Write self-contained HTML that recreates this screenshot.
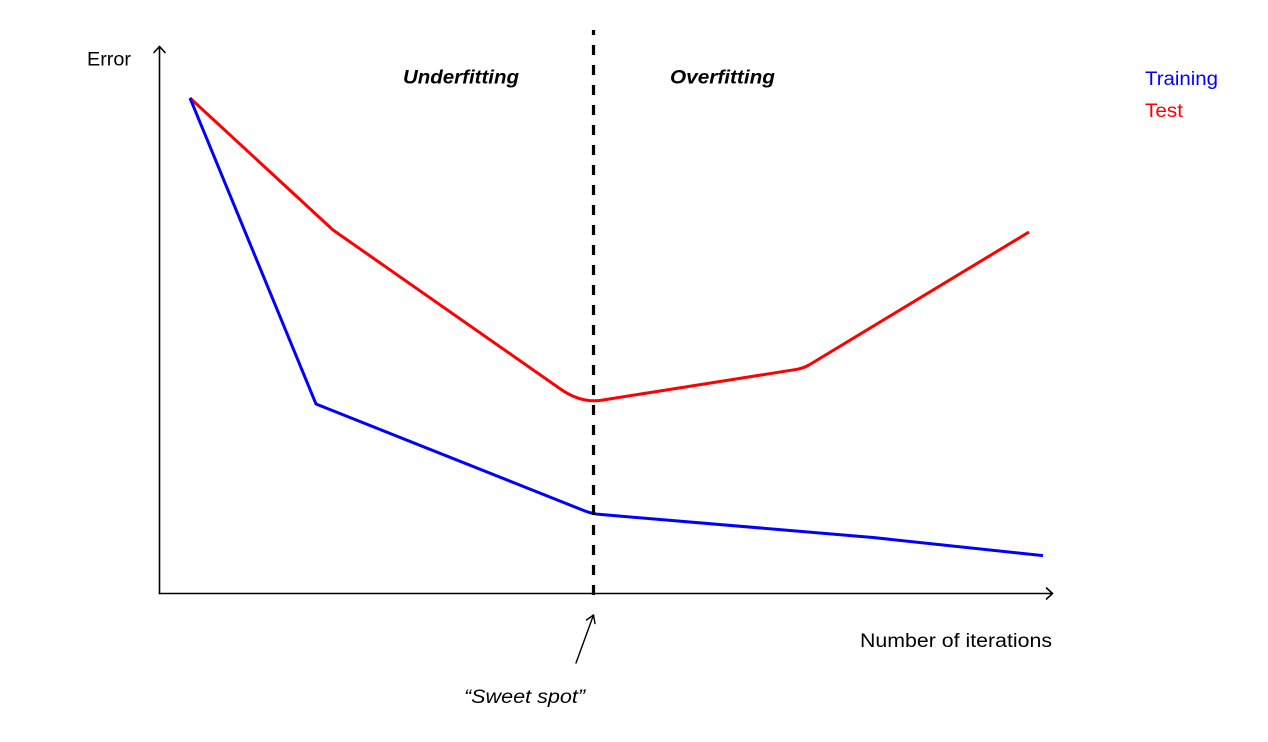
<!DOCTYPE html>
<html>
<head>
<meta charset="utf-8">
<style>
  html, body { margin: 0; padding: 0; background: #ffffff; }
  svg { display: block; }
  text { font-family: "Liberation Sans", "DejaVu Sans", sans-serif; }
</style>
</head>
<body>
<svg width="1268" height="742" viewBox="0 0 1268 742" xmlns="http://www.w3.org/2000/svg">
  <rect x="0" y="0" width="1268" height="742" fill="#ffffff"/>

  <!-- Axes -->
  <g stroke="#000" stroke-width="1.6" fill="none" stroke-linecap="round" stroke-linejoin="round">
    <line x1="159.5" y1="593.5" x2="159.5" y2="46.5"/>
    <polyline points="154,52.5 159.5,46.5 165,52.5"/>
    <line x1="159.5" y1="593.5" x2="1052.5" y2="593.5"/>
    <polyline points="1046.5,588 1052.5,593.5 1046.5,599"/>
  </g>

  <!-- Series: Test (red) -->
  <path d="M190,98 L333,230 L559,388 Q581,404 603,400 L797,369.3 Q803,368.3 809,365 L1029,232"
        fill="none" stroke="#ff0000" stroke-width="3" stroke-linejoin="round" stroke-linecap="butt"/>

  <!-- Series: Training (blue) -->
  <path d="M190,98 L316,404 L585,511 Q593,514 600,514.4 L873,537.5 L1043,555.6"
        fill="none" stroke="#0000ff" stroke-width="3" stroke-linejoin="round" stroke-linecap="butt"/>

  <!-- Dashed vertical line -->
  <line x1="593.5" y1="30" x2="593.5" y2="595" stroke="#000" stroke-width="3.2"
        stroke-dasharray="10 10" stroke-dashoffset="5"/>

  <!-- Sweet spot arrow -->
  <g stroke="#000" stroke-width="1.4" fill="none" stroke-linecap="round" stroke-linejoin="round">
    <line x1="576" y1="663" x2="593.5" y2="615"/>
    <polyline points="586.5,620 593.5,615 595,623.5"/>
  </g>

  <!-- Labels -->
  <text x="87" y="65.5" font-size="19" fill="#000" textLength="44" lengthAdjust="spacingAndGlyphs">Error</text>
  <text x="403" y="83.5" font-size="19" font-weight="bold" font-style="italic" fill="#000" textLength="116" lengthAdjust="spacingAndGlyphs">Underfitting</text>
  <text x="670" y="83.5" font-size="19" font-weight="bold" font-style="italic" fill="#000" textLength="105" lengthAdjust="spacingAndGlyphs">Overfitting</text>
  <text x="1145" y="85" font-size="19" fill="#0000ff" textLength="73" lengthAdjust="spacingAndGlyphs">Training</text>
  <text x="1145" y="117" font-size="19" fill="#ff0000" textLength="38" lengthAdjust="spacingAndGlyphs">Test</text>
  <text x="860" y="647" font-size="19" fill="#000" textLength="192" lengthAdjust="spacingAndGlyphs">Number of iterations</text>
  <text x="464" y="703" font-size="19" font-style="italic" fill="#000" textLength="121" lengthAdjust="spacingAndGlyphs">“Sweet spot”</text>
</svg>
</body>
</html>
